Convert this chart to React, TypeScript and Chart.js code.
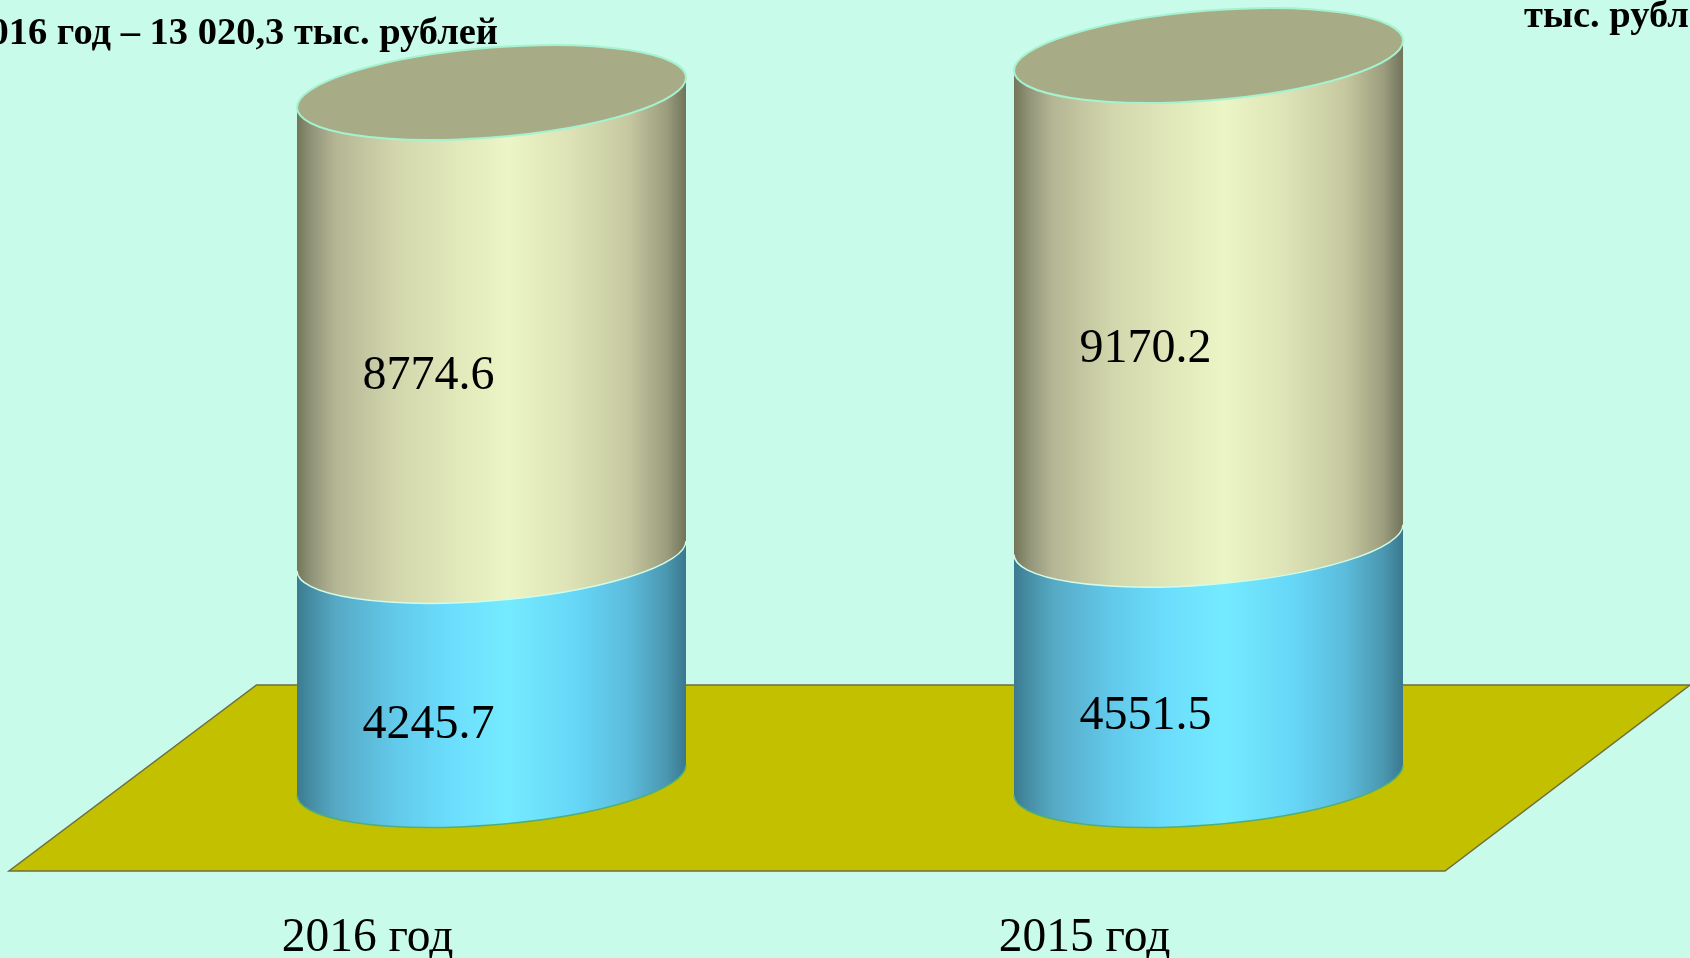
import React, { useEffect, useRef } from "react";
import { Chart, registerables } from "chart.js";

Chart.register(...registerables);

const categories = ["2016 год", "2015 год"];
const lowerSeries = [4245.7, 4551.5];
const upperSeries = [8774.6, 9170.2];
const headerLeft = "2016 год – 13 020,3 тыс. рублей";
const headerRight = "тыс. рублей";

const FONT = '"Liberation Serif"';
const BG = "#c9fbeb";
const TILT = -15;
const MINOR = 45;

const yellowStops: [number, string][] = [
  [0, "#74765a"], [0.04, "#93957a"], [0.1, "#b4b694"], [0.25, "#d2d6ac"], [0.42, "#e2e9bb"],
  [0.54, "#ebf5c5"], [0.7, "#dde3b6"], [0.85, "#c6c9a0"], [0.95, "#9b9d7e"], [1, "#72745a"],
];
const blueStops: [number, string][] = [
  [0, "#3b7b90"], [0.04, "#478fa6"], [0.1, "#56a9c4"], [0.25, "#62c9ea"], [0.4, "#6cdefd"],
  [0.54, "#74ebff"], [0.72, "#66d6f7"], [0.85, "#5cbcdc"], [0.95, "#4a97b0"], [1, "#3a788e"],
];

function segment(ctx: CanvasRenderingContext2D, bar: any, stops: [number, string][], rim: string, bottomRim: string, cap: boolean) {
  const a = bar.width / 2;
  ctx.save();
  ctx.translate(bar.x, 0);
  ctx.transform(1, TILT / a, 0, 1, 0, 0);
  const g = ctx.createLinearGradient(-a, 0, a, 0);
  stops.forEach(([o, c]) => g.addColorStop(o, c));
  ctx.beginPath();
  ctx.moveTo(-a, bar.y);
  ctx.ellipse(0, bar.y, a, MINOR, 0, Math.PI, 0, true);
  ctx.lineTo(a, bar.base);
  ctx.ellipse(0, bar.base, a, MINOR, 0, 0, Math.PI, false);
  ctx.closePath();
  ctx.fillStyle = g;
  ctx.fill();
  ctx.beginPath();
  ctx.ellipse(0, bar.base, a, MINOR, 0, 0, Math.PI, false);
  ctx.strokeStyle = bottomRim;
  ctx.lineWidth = 1.5;
  ctx.stroke();
  if (cap) {
    ctx.beginPath();
    ctx.ellipse(0, bar.y, a, MINOR, 0, 0, Math.PI * 2);
    ctx.fillStyle = "#a8ac86";
    ctx.fill();
    ctx.strokeStyle = rim;
    ctx.lineWidth = 2;
    ctx.stroke();
  }
  ctx.restore();
}

const scenePlugin = {
  id: "scene",
  beforeDraw(chart: any) {
    const { ctx, width, height } = chart;
    ctx.save();
    ctx.fillStyle = BG;
    ctx.fillRect(0, 0, width, height);
    ctx.fillStyle = "#000";
    ctx.textBaseline = "alphabetic";
    ctx.font = `bold 38.5px ${FONT}`;
    ctx.textAlign = "right";
    ctx.fillText(headerLeft, 498, 44);
    ctx.textAlign = "left";
    ctx.fillText(headerRight, 1524, 27);
    ctx.restore();
  },
  afterDatasetsDraw(chart: any) {
    const { ctx, chartArea } = chart;
    const y0 = chartArea.bottom;
    ctx.save();
    ctx.beginPath();
    ctx.moveTo(256.5, y0 - 95);
    ctx.lineTo(1690, y0 - 95);
    ctx.lineTo(1445, y0 + 91);
    ctx.lineTo(9, y0 + 91);
    ctx.closePath();
    ctx.fillStyle = "#c3c000";
    ctx.fill();
    ctx.strokeStyle = "#6d6e42";
    ctx.lineWidth = 1.5;
    ctx.stroke();

    const low = chart.getDatasetMeta(0).data;
    const up = chart.getDatasetMeta(1).data;
    low.forEach((bar: any, i: number) => {
      segment(ctx, bar, blueStops, "#aef5d8", "#4fae7a", false);
      segment(ctx, up[i], yellowStops, "#a4f2cf", "#d2fbe8", true);
    });

    ctx.fillStyle = "#000";
    ctx.textAlign = "center";
    ctx.textBaseline = "middle";
    ctx.font = `48px ${FONT}`;
    low.forEach((bar: any, i: number) => {
      ctx.fillText(lowerSeries[i].toFixed(1), bar.x - 63, (bar.y + bar.base) / 2 + 57);
      const u = up[i];
      ctx.fillText(upperSeries[i].toFixed(1), u.x - 63, (u.y + u.base) / 2 + 52);
    });
    ctx.restore();
  },
};

export default function App() {
  const ref = useRef<HTMLCanvasElement | null>(null);
  useEffect(() => {
    document.body.style.margin = "0";
    const chart = new Chart(ref.current as HTMLCanvasElement, {
      type: "bar",
      data: {
        labels: categories,
        datasets: [
          { label: "lower", data: lowerSeries, backgroundColor: "transparent", barThickness: 389 },
          { label: "upper", data: upperSeries, backgroundColor: "transparent", barThickness: 389 },
        ],
      },
      options: {
        responsive: false,
        animation: false,
        layout: { padding: { left: 133, right: 123, top: 40.8, bottom: 0 } },
        plugins: { legend: { display: false }, tooltip: { enabled: false }, title: { display: false } },
        scales: {
          x: {
            stacked: true,
            grid: { display: false },
            border: { display: false },
            afterFit: (s: any) => { s.height = 178; },
            ticks: {
              color: "#000",
              padding: 122,
              labelOffset: -124,
              maxRotation: 0,
              autoSkip: false,
              font: { family: "Liberation Serif", size: 47.5 },
            },
          },
          y: { stacked: true, display: false, min: 0, max: 14000 },
        },
      },
      plugins: [scenePlugin],
    } as any);
    return () => chart.destroy();
  }, []);
  return <canvas ref={ref} width={1690} height={958} style={{ display: "block" }} />;
}
